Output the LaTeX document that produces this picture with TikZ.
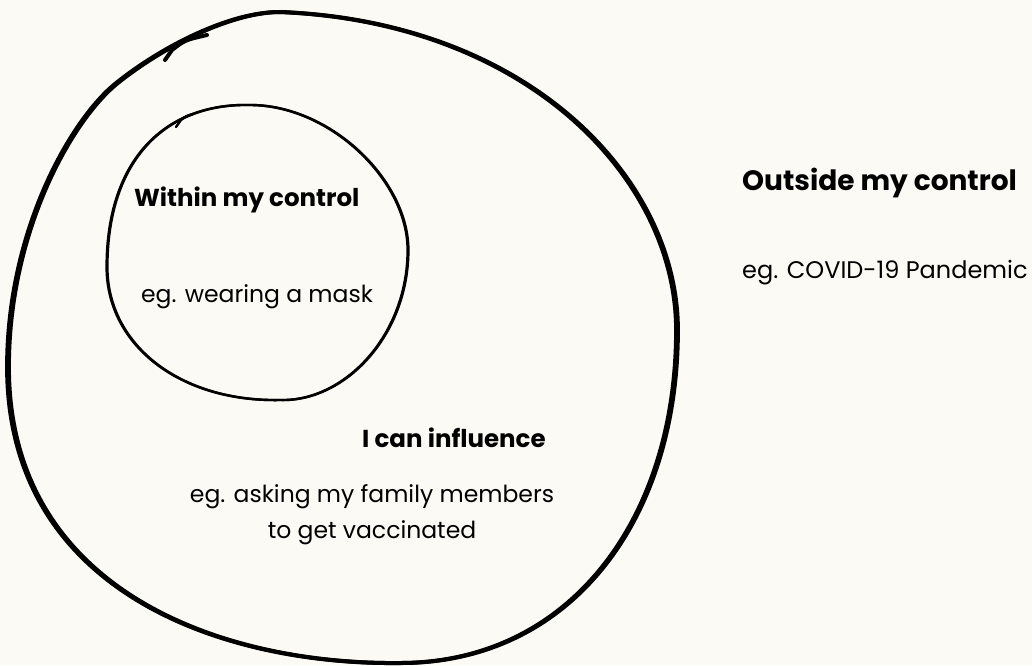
\documentclass[tikz,border=0pt]{standalone}
\usepackage{fontspec}
\setmainfont{Poppins}
\definecolor{paper}{RGB}{251,250,245}
\begin{document}
\begin{tikzpicture}[x=1pt,y=-1pt,
  loopline/.style={line cap=round,line join=round},
  heading/.style={font=\fontsize{24.5}{29}\selectfont\bfseries,inner sep=0pt,anchor=base west},
  bodytext/.style={font=\fontsize{23.5}{36}\selectfont,inner sep=0pt},
]
\fill[paper] (0,0) rectangle (1032,665);
\useasboundingbox (0,0) rectangle (1032,665);

% outer circle: what I can influence (two passes, shifted sideways,
% so the sides come out heavier than the top and bottom)
\foreach \dx in {-0.9,0.9}{
  \draw[loopline,line width=4pt,xshift=\dx] (280,12)
    .. controls (530,22) and (677,180) .. (677,330)
    .. controls (677,520) and (570,663) .. (400,663)
    .. controls (220,665) and (8,590) .. (8,367)
    .. controls (8,230) and (72,119) .. (117,83)
    .. controls (162,47) and (230,12) .. cycle;
}
% pen stroke where the loop was started and closed
\draw[loopline,line width=4pt] (165,60) -- (172,50) .. controls (185,40) .. (207,35);

% inner circle: what is within my control
\foreach \dx in {-0.4,0.4}{
  \draw[loopline,line width=2.4pt,xshift=\dx] (250,105)
    .. controls (330,105) and (408,180) .. (408,250)
    .. controls (408,335) and (345,402) .. (280,400)
    .. controls (180,402) and (107,345) .. (107,267)
    .. controls (107,160) and (165,103) .. cycle;
}
\draw[loopline,line width=2.4pt] (176,127) -- (181,120) .. controls (186,116) .. (193,114);

\node[heading] (within) at (134,206) {Within my control};
\node[bodytext,anchor=base] (mask) at (257,302) {eg. wearing a mask};
\node[heading] (influence) at (362,447) {I can influence};
\node[bodytext,anchor=base,align=center] (family) at (372,538)
  {eg. asking my family members\\to get vaccinated};
\node[heading,font=\fontsize{28}{32}\selectfont\bfseries] (outside) at (742,190) {Outside my control};
\node[bodytext,anchor=base west,font=\fontsize{24}{30}\selectfont] (covid) at (742,278) {eg. COVID-19 Pandemic};
\end{tikzpicture}
\end{document}
